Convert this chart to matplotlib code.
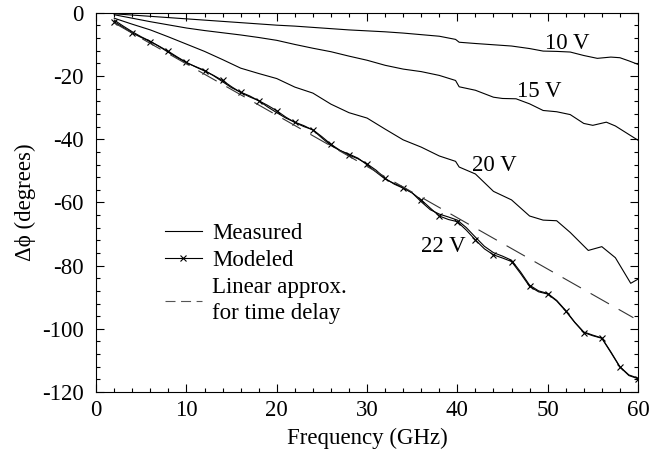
import numpy as np
import matplotlib
matplotlib.use("Agg")
import matplotlib.pyplot as plt
from matplotlib.lines import Line2D
from matplotlib.ticker import MultipleLocator

plt.rcParams['font.family'] = ['Liberation Serif', 'DejaVu Serif']
plt.rcParams['axes.unicode_minus'] = False

# measured phase shift vs frequency for different bias voltages
f_10 = [2, 4, 6, 8, 10, 12, 14, 16, 18, 20, 22, 24, 26, 28, 30, 32, 34, 36, 38,
        39.8, 40.2, 42, 44, 46, 48, 49.5, 51, 52.5, 54, 55.5, 57, 58, 59, 60]
ph_10 = [-0.3, -0.7, -1.1, -1.5, -1.9, -2.3, -2.7, -3.1, -3.5, -3.9, -4.2, -4.6,
         -5.0, -5.4, -5.7, -6.0, -6.4, -6.9, -7.4, -8.4, -9.3, -9.7, -10.1, -10.5,
         -11.3, -12.1, -12.2, -12.4, -13.5, -14.4, -14.0, -14.2, -15.2, -16.3]

f_15 = [2, 4, 6, 8, 10, 12, 14, 16, 18, 20, 22, 24, 26, 28, 30, 32, 34, 36, 38,
        39.8, 40.2, 42, 44, 45, 46.5, 48, 49.5, 51, 52.5, 54, 55, 56.5, 57.5, 59, 60]
ph_15 = [-0.6, -1.7, -2.8, -3.8, -4.8, -5.6, -6.3, -7.0, -7.8, -8.7, -10.0, -11.2,
         -12.3, -13.7, -15.0, -16.6, -17.8, -18.6, -19.8, -21.4, -23.4, -24.5,
         -26.7, -27.1, -27.2, -28.8, -30.9, -31.3, -32.2, -35.0, -35.6, -34.6,
         -35.8, -38.5, -40.3]

f_20 = [2, 4, 6, 8, 10, 12, 14, 16, 18, 20, 22, 24, 26, 28, 30, 32, 34, 36, 38,
        39.8, 40.2, 42, 44, 46, 48, 49.5, 51, 52.5, 54.5, 56, 57.5, 59.2, 60]
ph_20 = [-1.7, -3.6, -5.4, -7.6, -9.9, -12.2, -14.8, -17.5, -19.2, -20.8, -23.5,
         -25.4, -28.9, -31.6, -33.3, -36.8, -40.2, -42.5, -45.3, -47.0, -48.8,
         -51.0, -56.5, -59.2, -64.3, -65.6, -65.8, -69.5, -75.2, -74.0, -77.5,
         -85.6, -84.3]

f_22 = list(range(2, 61))
ph_22_meas = [-2.3, -4.2, -6.0, -7.6, -9.0, -10.7, -12.5, -14.2, -15.8, -17.0,
              -18.2, -19.9, -21.8, -23.7, -25.1, -26.3, -27.8, -29.8, -31.6, -33.3,
              -34.6, -35.7, -37.1, -39.6, -42.0, -43.6, -44.7, -46.0, -48.1, -50.4,
              -52.6, -54.0, -55.2, -57.0, -59.8, -62.3, -63.7, -64.6, -65.6, -68.0,
              -71.0, -73.9, -75.9, -77.0, -78.3, -82.0, -86.2, -88.0, -88.8, -91.0,
              -94.2, -97.9, -101.0, -102.0, -102.9, -107.3, -112.0, -114.6, -115.6]
ph_22_model = [-2.8, -4.6, -6.4, -7.8, -9.1, -10.6, -12.2, -14.0, -15.7, -17.1,
               -18.4, -19.8, -21.4, -23.4, -25.2, -26.6, -27.8, -29.3, -31.0, -33.0,
               -34.7, -36.0, -37.0, -39.2, -41.6, -43.5, -45.0, -46.2, -47.8, -49.8,
               -52.4, -54.2, -55.5, -57.0, -59.2, -61.8, -64.3, -65.4, -66.1, -68.8,
               -71.9, -74.7, -76.6, -77.6, -78.7, -82.5, -86.6, -88.3, -89.0, -91.2,
               -94.4, -98.0, -101.2, -102.2, -103.0, -107.5, -112.1, -114.8, -115.8]

# linear phase for the equivalent time delay
f_lin = [2, 59.5]
ph_lin = [-3.2, -96.5]

FS = 16.5

fig, ax = plt.subplots(figsize=(6.68, 4.59), dpi=100)
fig.subplots_adjust(left=0.144, right=0.955, top=0.972, bottom=0.146)

ax.plot(f_10, ph_10, color='black', lw=0.8)
ax.plot(f_15, ph_15, color='black', lw=0.8)
ax.plot(f_20, ph_20, color='black', lw=0.8)
ax.plot(f_22, ph_22_meas, color='black', lw=0.8)
ax.plot(f_22, ph_22_model, color='black', lw=0.8, marker='x', markevery=2,
        ms=5, mew=0.8)
ax.plot(f_lin, ph_lin, color='#333333', lw=0.8, dashes=(19, 10))

ax.text(52.2, -9.7, '10 V', fontsize=FS, ha='center', va='center')
ax.text(49.1, -24.9, '15 V', fontsize=FS, ha='center', va='center')
ax.text(44.1, -48.4, '20 V', fontsize=FS, ha='center', va='center')
ax.text(38.4, -73.8, '22 V', fontsize=FS, ha='center', va='center')

ax.set_xlim(0, 60)
ax.set_ylim(-120, 0)
ax.xaxis.set_major_locator(MultipleLocator(10))
ax.xaxis.set_minor_locator(MultipleLocator(2))
ax.yaxis.set_major_locator(MultipleLocator(20))
ax.yaxis.set_minor_locator(MultipleLocator(4))
ax.tick_params(which='both', direction='in', top=True, right=True,
               labelsize=FS, width=0.8)
ax.tick_params(which='major', length=6)
ax.tick_params(which='minor', length=3)
ax.tick_params(axis='y', pad=9)
ax.tick_params(axis='x', pad=6)
for s in ax.spines.values():
    s.set_linewidth(0.8)

ax.set_xlabel('Frequency (GHz)', fontsize=FS, labelpad=5)
ax.set_ylabel('Δϕ (degrees)', fontsize=FS, labelpad=4)

# legend keys with shorter dashes than the plotted line
handles = [
    Line2D([], [], color='black', lw=0.8),
    Line2D([], [], color='black', lw=0.8, marker='x', ms=4, mew=0.8),
    Line2D([], [], color='#555555', lw=0.8, dashes=(9, 5)),
]
labels = ['Measured', 'Modeled', 'Linear approx.\nfor time delay']
leg = ax.legend(handles, labels, loc='upper left', bbox_to_anchor=(0.11, 0.47),
                frameon=False, fontsize=FS, handlelength=1.6, handletextpad=0.45,
                numpoints=1, labelspacing=0.27, borderaxespad=0)
leg.get_texts()[2].set_linespacing(1.3)

fig.savefig('out.png', dpi=100)
